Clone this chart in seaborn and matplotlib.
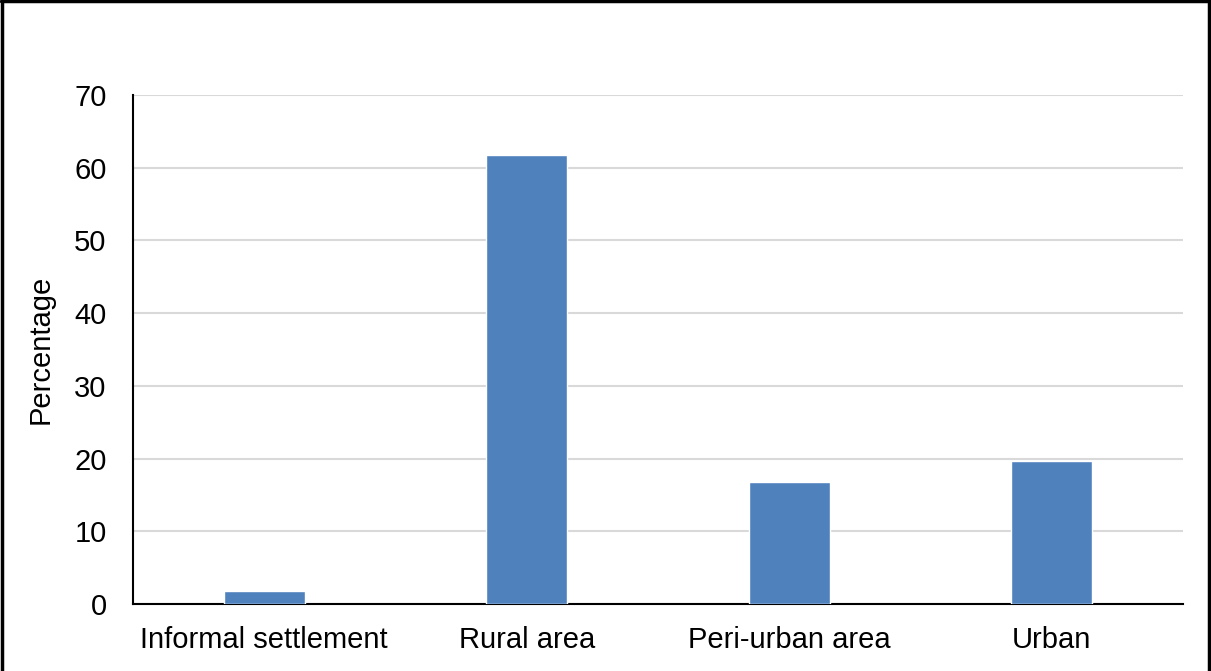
import matplotlib
matplotlib.use("Agg")
import matplotlib.pyplot as plt
from matplotlib.lines import Line2D
import seaborn as sns
import pandas as pd

categories = ["Informal settlement", "Rural area", "Peri-urban area", "Urban"]
values = [1.8, 61.7, 16.8, 19.6]
yticks = [0, 10, 20, 30, 40, 50, 60, 70]

sns.set_style("white")
plt.rcParams["font.family"] = ["Liberation Sans", "DejaVu Sans"]

df = pd.DataFrame({"cat": categories, "val": values})

fig = plt.figure(figsize=(12.11, 6.71), dpi=100)
ax = fig.add_axes([133/1211, 67/671, 1050/1211, 509/671])
sns.barplot(data=df, x="cat", y="val", color="#4f81bd", width=0.31,
            saturation=1, ax=ax, zorder=3)
ax.set_ylim(0, 70)
ax.set_yticks(yticks)
ax.set_xlim(-0.5, 3.5)
ax.yaxis.grid(True, color="#d9d9d9", linewidth=1.5, zorder=0)
ax.set_axisbelow(True)
for s in ["top", "right"]:
    ax.spines[s].set_visible(False)
ax.spines["left"].set_color("black")
ax.spines["bottom"].set_color("black")
ax.spines["left"].set_linewidth(1.5)
ax.spines["bottom"].set_linewidth(1.5)
ax.tick_params(axis="both", length=0, labelsize=21, colors="black")
ax.tick_params(axis="y", pad=19)
ax.tick_params(axis="x", pad=16)
ax.set_xlabel("")
ax.set_ylabel("Percentage", fontsize=21, labelpad=14, color="black")

# figure border: top, left, right (no bottom)
for xs, ys in [([0.001, 0.999], [0.998, 0.998]),
               ([0.0015, 0.0015], [0, 1]),
               ([0.9985, 0.9985], [0, 1])]:
    fig.add_artist(Line2D(xs, ys, transform=fig.transFigure, color="black", linewidth=2.5))

fig.savefig("out.png", dpi=100)
